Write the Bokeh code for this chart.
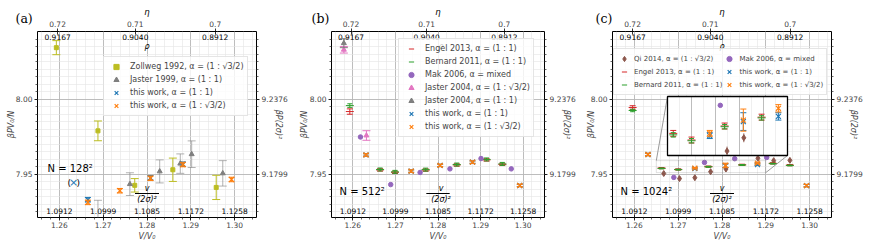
import numpy as np
from bokeh.plotting import figure
from bokeh.layouts import row
from bokeh.models import (Range1d, LinearAxis, FixedTicker, PrintfTickFormatter,
                          Label, Legend, LegendItem, BoxAnnotation, Title)
from bokeh.embed import file_html
from bokeh.resources import INLINE
from bokeh.core.properties import value

# ---------------- axis ticks / tick labels ----------------
V_TICKS = [1.26, 1.27, 1.28, 1.29, 1.30]
V_INNER_LABELS = ["1.0912", "1.0999", "1.1085", "1.1172", "1.1258"]      # v/(2σ)^2
ETA_TICKS = [0.72, 0.71, 0.70]
ETA_LABELS = ["0.72", "0.71", "0.7"]
RHO_LABELS = ["0.9167", "0.9040", "0.8912"]
P_TICKS = [7.95, 8.00]
P_RIGHT_LABELS = ["9.1799", "9.2376"]                                   # βP(2σ)^2

# ---------------- panel (a): N = 128^2 ----------------
a_zollweg_V = [1.2593, 1.2688, 1.2772, 1.2859, 1.2958]
a_zollweg_P = [8.0345, 7.9789, 7.9425, 7.9529, 7.9411]
a_zollweg_err = [0.0047, 0.0066, 0.0045, 0.0078, 0.0081]
a_jaster_V = [1.2688, 1.2761, 1.2829, 1.2876, 1.2902, 1.2973]
a_jaster_P = [7.9160, 7.9433, 7.9518, 7.9570, 7.9633, 7.9505]
a_jaster_err = [0.0165, 0.0076, 0.0077, 0.0065, 0.0089, 0.0085]
a_tw11_V = [1.2665, 1.2808, 1.2882]
a_tw11_P = [7.9329, 7.9475, 7.9566]
a_tw11_err = [0.0015, 0.0015, 0.0015]
a_tws_V = [1.2665, 1.2738, 1.2808, 1.2882, 1.2993]
a_tws_P = [7.9311, 7.9389, 7.9472, 7.9564, 7.9464]
a_tws_err = [0.0015, 0.0015, 0.0015, 0.0015, 0.0015]

# ---------------- panel (b): N = 512^2 ----------------
b_engel_V = [1.2593, 1.2664, 1.2699, 1.2771, 1.2844, 1.2914, 1.2951]
b_engel_P = [7.9918, 7.9528, 7.9512, 7.9527, 7.9561, 7.9595, 7.9565]
b_engel_err = [0.0018, 0.0008, 0.0008, 0.0008, 0.0008, 0.0008, 0.0008]
b_bernard_V = [1.2593, 1.2664, 1.2699, 1.2771, 1.2844, 1.2914, 1.2951]
b_bernard_P = [7.9958, 7.9531, 7.9515, 7.9530, 7.9564, 7.9598, 7.9568]
b_bernard_err = [0.0012, 0.0010, 0.0010, 0.0010, 0.0010, 0.0010, 0.0010]
b_mak_V = [1.2618, 1.2689, 1.2758, 1.2828, 1.2901, 1.2972]
b_mak_P = [7.9748, 7.9430, 7.9511, 7.9535, 7.9604, 7.9535]
b_j04s_V = [1.2579, 1.2632]
b_j04s_P = [8.0331, 7.9758]
b_j04s_err = [0.0022, 0.0032]
b_j04_V = [1.2579]
b_j04_P = [8.0375]
b_j04_err = [0.0030]
b_tw11_V = [1.2631, 1.2737, 1.2805, 1.2881, 1.2992]
b_tw11_P = [7.9628, 7.9520, 7.9558, 7.9580, 7.9424]
b_tw11_err = [0.0008, 0.0008, 0.0008, 0.0008, 0.0008]
b_tws_V = [1.2631, 1.2737, 1.2805, 1.2881, 1.2992]
b_tws_P = [7.9628, 7.9520, 7.9558, 7.9580, 7.9424]
b_tws_err = [0.0008, 0.0008, 0.0008, 0.0008, 0.0008]

# ---------------- panel (c): N = 1024^2 ----------------
c_qi_V = [1.2667, 1.2703, 1.2738, 1.2774, 1.2809, 1.2882, 1.2918, 1.2955]
c_qi_P = [7.9504, 7.9470, 7.9476, 7.9516, 7.9534, 7.9606, 7.9590, 7.9592]
c_qi_err = [0.0006, 0.0006, 0.0006, 0.0006, 0.0006, 0.0006, 0.0006, 0.0006]
c_engel_V = [1.2596, 1.2662, 1.2700, 1.2769, 1.2846, 1.2916, 1.2955]
c_engel_P = [7.9945, 7.9540, 7.9531, 7.9550, 7.9562, 7.9572, 7.9560]
c_engel_err = [0.0012, 0.0004, 0.0004, 0.0004, 0.0004, 0.0004, 0.0004]
c_bernard_V = [1.2596, 1.2662, 1.2700, 1.2769, 1.2846, 1.2916, 1.2955]
c_bernard_P = [7.9925, 7.9538, 7.9530, 7.9549, 7.9561, 7.9570, 7.9558]
c_bernard_err = [0.0008, 0.0003, 0.0003, 0.0003, 0.0003, 0.0003, 0.0003]
c_mak_V = [1.2690, 1.2760, 1.2829, 1.2902]
c_mak_P = [7.9478, 7.9578, 7.9603, 7.9611]
c_tw11_V = [1.2631, 1.2738, 1.2808, 1.2881, 1.2993]
c_tw11_P = [7.9631, 7.9537, 7.9556, 7.9563, 7.9423]
c_tw11_err = [0.0008, 0.0004, 0.0012, 0.0005, 0.0008]
c_tws_V = [1.2631, 1.2738, 1.2808, 1.2881, 1.2993]
c_tws_P = [7.9631, 7.9540, 7.9558, 7.9574, 7.9423]
c_tws_err = [0.0008, 0.0004, 0.0015, 0.0005, 0.0008]

# inset of panel (c): axis limits and placement (frame pixels: left, right, bottom, top)
INSET_X = (1.265, 1.290)
INSET_Y = (7.951, 7.959)
INSET_PX = (55, 175, 62, 121)

# ---------------- styling / geometry ----------------
FONT = "DejaVu Sans"
TICK_FS = "7.5px"
X0, X1 = 1.255, 1.305
Y0, Y1 = 7.921, 8.0453
FW, FH = 219, 186
TOP, BOTTOM = 31, 30
ETA_CP = np.pi / (2 * np.sqrt(3))
eta_pos = [float(ETA_CP / e) for e in ETA_TICKS]
x_minor = [round(float(v), 4) for v in np.arange(1.256, 1.3049, 0.002)]
y_minor = [round(float(v), 4) for v in np.arange(7.925, 8.0449, 0.005)]

C = dict(blue="#1f77b4", orange="#ff7f0e", green="#2ca02c", red="#d62728",
         purple="#9467bd", brown="#8c564b", pink="#e377c2", gray="#7f7f7f",
         olive="#bcbd22")


def xd(px):
    return X0 + px / FW * (X1 - X0)


def yd(py):
    return Y0 + py / FH * (Y1 - Y0)


def style_axis(ax, tick_in=0, tick_out=3):
    ax.axis_line_color = None
    ax.major_tick_line_color = "black"
    ax.major_tick_line_width = 0.8
    ax.major_tick_out = tick_out
    ax.major_tick_in = tick_in
    ax.minor_tick_line_color = "black"
    ax.minor_tick_line_width = 0.6
    ax.minor_tick_out = 2
    ax.minor_tick_in = 0
    ax.major_label_text_font = FONT
    ax.major_label_text_font_size = TICK_FS
    ax.major_label_standoff = 2
    ax.axis_label_text_font = FONT
    ax.axis_label_text_font_size = "8px"
    ax.axis_label_text_font_style = "italic"


def make_fig(left, right, ylab_standoff, tag, tag_dx):
    p = figure(width=left + FW + right, height=TOP + FH + BOTTOM,
               x_range=Range1d(X0, X1), y_range=Range1d(Y0, Y1),
               output_backend="svg", toolbar_location=None, tools="",
               min_border_left=left, min_border_right=right,
               min_border_top=TOP, min_border_bottom=BOTTOM)
    p.outline_line_color = "black"
    p.outline_line_width = 1
    xa = p.xaxis[0]
    xa.ticker = FixedTicker(ticks=V_TICKS, minor_ticks=x_minor)
    xa.formatter = PrintfTickFormatter(format="%.2f")
    style_axis(xa, tick_in=3)
    xa.major_label_standoff = 1
    xa.axis_label = "V/V₀"
    xa.axis_label_standoff = 1
    ya = p.yaxis[0]
    ya.ticker = FixedTicker(ticks=P_TICKS, minor_ticks=y_minor)
    ya.formatter = PrintfTickFormatter(format="%.2f")
    style_axis(ya)
    ya.axis_label = "βPV₀/N"
    ya.axis_label_standoff = ylab_standoff
    # top (η) axis: tick labels only; its title and the panel tag are Titles stacked above
    ta = LinearAxis(ticker=FixedTicker(ticks=eta_pos, minor_ticks=[]),
                    major_label_overrides=dict(zip(eta_pos, ETA_LABELS)))
    style_axis(ta, tick_in=3)
    p.add_layout(ta, "above")
    kw_tag = dict(text=tag, align="left", vertical_align="bottom", offset=tag_dx,
                  text_font="DejaVu Serif", text_font_size="12.5px",
                  text_font_style="normal", text_color="black")
    try:
        t1 = Title(standoff=-16, **kw_tag)
    except Exception:
        t1 = Title(standoff=0, **kw_tag)
    p.add_layout(t1, "above")
    p.add_layout(Title(text="η", align="center", vertical_align="bottom", standoff=0,
                       text_font=FONT, text_font_size="8.5px", text_font_style="italic",
                       text_color="black"), "above")
    ra = LinearAxis(ticker=FixedTicker(ticks=P_TICKS, minor_ticks=y_minor),
                    major_label_overrides=dict(zip(P_TICKS, P_RIGHT_LABELS)))
    style_axis(ra)
    ra.axis_label = "βP(2σ)²"
    ra.axis_label_standoff = -17
    p.add_layout(ra, "right")
    for g in (p.xgrid, p.ygrid):
        g.grid_line_color = "#b0b0b0"
        g.grid_line_width = 0.8
        g.minor_grid_line_color = "#e4e4e4"
        g.minor_grid_line_width = 0.6
    p.text(x=eta_pos, y=[Y1] * len(eta_pos), text=RHO_LABELS, text_align="center",
           text_baseline="top", y_offset=2, text_font=value(FONT), text_font_size="7.5px")
    p.text(x=V_TICKS, y=[Y0] * len(V_TICKS), text=V_INNER_LABELS, text_align="center",
           text_baseline="bottom", y_offset=-4, text_font=value(FONT), text_font_size="7.5px")
    return p


def add_text(p, x, y, text, size="8px", align="center", baseline="middle", angle=0.0,
             color="black", font=FONT, style="normal"):
    p.add_layout(Label(x=x, y=y, x_units="screen", y_units="screen", text=text,
                       text_font=font, text_font_size=size, text_align=align,
                       text_baseline=baseline, angle=angle, text_color=color,
                       text_font_style=style))


def decorate(p, nlabel, nx, ny):
    add_text(p, FW / 2, FH - 15, "ρ", size="8px", style="italic")
    add_text(p, FW / 2, 29, "v", size="8px", style="italic")
    add_text(p, FW / 2, 18, "(2σ)²", size="8px", style="italic")
    p.add_layout(BoxAnnotation(left=xd(FW / 2 - 12), right=xd(FW / 2 + 12),
                               bottom=yd(23.6), top=yd(24.4), fill_color="black",
                               fill_alpha=1.0, line_color=None))
    add_text(p, nx, ny, nlabel, size="10px", align="left")


def errpoints(p, V, P, err, color, marker, size, cap=8, err_alpha=1.0, lw=1.0,
              rn=None, clip=None, mlw=1.0):
    rn = rn or {}
    V, P, err = list(V), list(P), list(err)
    if clip is not None:
        (xa, xb), (ya, yb) = clip
        keep = [i for i in range(len(V)) if xa <= V[i] <= xb and ya <= P[i] <= yb]
        V = [V[i] for i in keep]
        P = [P[i] for i in keep]
        err = [err[i] for i in keep]
    lo = [pp - e for pp, e in zip(P, err)]
    hi = [pp + e for pp, e in zip(P, err)]
    if clip is not None:
        lo = [max(v, clip[1][0]) for v in lo]
        hi = [min(v, clip[1][1]) for v in hi]
    if len(V):
        p.segment(x0=V, y0=lo, x1=V, y1=hi, line_color=color, line_width=lw,
                  line_alpha=err_alpha, **rn)
        if cap:
            p.scatter(x=V + V, y=lo + hi, marker="dash", size=cap, line_color=color,
                      line_width=lw, line_alpha=err_alpha, **rn)
    return p.scatter(x=V, y=P, marker=marker, size=size, line_color=color,
                     fill_color=color, line_width=mlw, **rn)


def vproxy(p, color, alpha=1.0):
    return p.scatter(x=[], y=[], marker="dash", angle=np.pi / 2, size=6, line_color=color,
                     line_alpha=alpha, line_width=1)


def make_legend(items, loc, font_size="8px", glyph_width=18, standoff=5):
    return Legend(items=items, location=loc, orientation="vertical",
                  label_text_font=FONT, label_text_font_size=font_size,
                  glyph_height=13, glyph_width=glyph_width, label_height=12,
                  label_standoff=standoff, spacing=0, padding=3, margin=0,
                  background_fill_color="white", background_fill_alpha=0.8,
                  border_line_color="#cccccc", border_line_width=1)


A11 = "α = (1 : 1)"
A32 = "α = (1 : √3/2)"

# ================= panel (a) =================
pa = make_fig(37, 40, -3, "(a)", -22)
r_zw = errpoints(pa, a_zollweg_V, a_zollweg_P, a_zollweg_err, C["olive"], "square", 4, cap=8)
r_ja = errpoints(pa, a_jaster_V, a_jaster_P, a_jaster_err, C["gray"], "triangle", 5, cap=8,
                 err_alpha=0.6)
r_ab = errpoints(pa, a_tw11_V, a_tw11_P, a_tw11_err, C["blue"], "x", 7, cap=6, mlw=1.2)
r_ao = errpoints(pa, a_tws_V, a_tws_P, a_tws_err, C["orange"], "x", 7, cap=6, mlw=1.2)
items_a = [
    LegendItem(label="Zollweg 1992, " + A32, renderers=[vproxy(pa, C["olive"]), r_zw]),
    LegendItem(label="Jaster 1999, " + A11, renderers=[vproxy(pa, C["gray"], 0.6), r_ja]),
    LegendItem(label="this work, " + A11, renderers=[vproxy(pa, C["blue"]), r_ab]),
    LegendItem(label="this work, " + A32, renderers=[vproxy(pa, C["orange"]), r_ao]),
]
pa.add_layout(make_legend(items_a, (66, 101)))
decorate(pa, "N = 128²", 10, 49)
add_text(pa, 30, 35, "(", size="9px", align="left")
add_text(pa, 36, 35, "×", size="11px", color=C["blue"])
add_text(pa, 39, 35, ")", size="9px", align="left")

# ================= panel (b) =================
pb = make_fig(29, 39, -2, "(b)", -20)
r_be_en = errpoints(pb, b_engel_V, b_engel_P, b_engel_err, C["red"], "dash", 8, cap=6)
r_be_be = errpoints(pb, b_bernard_V, b_bernard_P, b_bernard_err, C["green"], "dash", 8, cap=5)
r_bm = pb.scatter(x=b_mak_V, y=b_mak_P, marker="circle", size=4.5, color=C["purple"])
r_bj4s = errpoints(pb, b_j04s_V, b_j04s_P, b_j04s_err, C["pink"], "triangle", 5, cap=8)
r_bj4 = errpoints(pb, b_j04_V, b_j04_P, b_j04_err, C["gray"], "triangle", 5, cap=8)
r_bb = errpoints(pb, b_tw11_V, b_tw11_P, b_tw11_err, C["blue"], "x", 7, cap=6, mlw=1.2)
r_bo = errpoints(pb, b_tws_V, b_tws_P, b_tws_err, C["orange"], "x", 7, cap=6, mlw=1.2)
items_b = [
    LegendItem(label="Engel 2013, " + A11, renderers=[vproxy(pb, C["red"]), r_be_en]),
    LegendItem(label="Bernard 2011, " + A11, renderers=[vproxy(pb, C["green"]), r_be_be]),
    LegendItem(label="Mak 2006, α = mixed", renderers=[r_bm]),
    LegendItem(label="Jaster 2004, " + A32, renderers=[vproxy(pb, C["pink"]), r_bj4s]),
    LegendItem(label="Jaster 2004, " + A11, renderers=[vproxy(pb, C["gray"]), r_bj4]),
    LegendItem(label="this work, " + A11, renderers=[vproxy(pb, C["blue"]), r_bb]),
    LegendItem(label="this work, " + A32, renderers=[vproxy(pb, C["orange"]), r_bo]),
]
pb.add_layout(make_legend(items_b, (67, 80)))
decorate(pb, "N = 512²", 8, 26)

# ================= panel (c) =================
pc = make_fig(29, 40, -8, "(c)", -17)
main_series = [
    (c_qi_V, c_qi_P, c_qi_err, C["brown"], "diamond", 6, 0),
    (c_engel_V, c_engel_P, c_engel_err, C["red"], "dash", 8, 6),
    (c_bernard_V, c_bernard_P, c_bernard_err, C["green"], "dash", 8, 5),
    (c_tw11_V, c_tw11_P, c_tw11_err, C["blue"], "x", 7, 6),
    (c_tws_V, c_tws_P, c_tws_err, C["orange"], "x", 7, 6),
]
rc = []
for (V, P, e, col, mk, sz, cp) in main_series:
    rc.append(errpoints(pc, V, P, e, col, mk, sz, cap=cp, mlw=1.2 if mk == "x" else 1.0))
r_cm = pc.scatter(x=c_mak_V, y=c_mak_P, marker="circle", size=4.5, color=C["purple"])

# zoom rectangle + connectors (inset corners expressed in main data coordinates)
pc.add_layout(BoxAnnotation(left=INSET_X[0], right=INSET_X[1], bottom=INSET_Y[0],
                            top=INSET_Y[1], fill_alpha=0, line_color="#808080",
                            line_width=0.8))
pc.segment(x0=[INSET_X[0], INSET_X[1]], y0=[INSET_Y[1], INSET_Y[0]],
           x1=[xd(INSET_PX[0]), xd(INSET_PX[1])], y1=[yd(INSET_PX[3]), yd(INSET_PX[2])],
           line_color="#808080", line_width=0.8)

# inset coordinate system mapped onto the inset box
sxp = (INSET_X[1] - INSET_X[0]) / (INSET_PX[1] - INSET_PX[0])
syp = (INSET_Y[1] - INSET_Y[0]) / (INSET_PX[3] - INSET_PX[2])
pc.extra_x_ranges = {"in": Range1d(INSET_X[0] - INSET_PX[0] * sxp,
                                   INSET_X[0] + (FW - INSET_PX[0]) * sxp)}
pc.extra_y_ranges = {"in": Range1d(INSET_Y[0] - INSET_PX[2] * syp,
                                   INSET_Y[0] + (FH - INSET_PX[2]) * syp)}
RN = dict(x_range_name="in", y_range_name="in")
pc.quad(left=[INSET_X[0]], right=[INSET_X[1]], bottom=[INSET_Y[0]], top=[INSET_Y[1]],
        fill_color="white", line_color=None, **RN)
gx_minor = [round(float(v), 4) for v in np.arange(INSET_X[0], INSET_X[1] + 1e-9, 0.0025)]
gx_major = [round(float(v), 4) for v in np.arange(INSET_X[0], INSET_X[1] + 1e-9, 0.005)]
pc.segment(x0=gx_minor, y0=[INSET_Y[0]] * len(gx_minor), x1=gx_minor,
           y1=[INSET_Y[1]] * len(gx_minor), line_color="#e4e4e4", line_width=0.6, **RN)
pc.segment(x0=gx_major, y0=[INSET_Y[0]] * len(gx_major), x1=gx_major,
           y1=[INSET_Y[1]] * len(gx_major), line_color="#b0b0b0", line_width=0.8, **RN)
for (V, P, e, col, mk, sz, cp) in main_series:
    errpoints(pc, V, P, e, col, mk, sz, cap=cp, rn=RN, clip=(INSET_X, INSET_Y),
              mlw=1.2 if mk == "x" else 1.0)
mk_in = [i for i in range(len(c_mak_V))
         if INSET_X[0] <= c_mak_V[i] <= INSET_X[1] and INSET_Y[0] <= c_mak_P[i] <= INSET_Y[1]]
pc.scatter(x=[c_mak_V[i] for i in mk_in], y=[c_mak_P[i] for i in mk_in], marker="circle",
           size=4.5, color=C["purple"], **RN)
pc.quad(left=[INSET_X[0]], right=[INSET_X[1]], bottom=[INSET_Y[0]], top=[INSET_Y[1]],
        fill_color=None, line_color="black", line_width=1.3, **RN)

items_c = [
    LegendItem(label="Qi 2014, " + A32, renderers=[rc[0]]),
    LegendItem(label="Engel 2013, " + A11, renderers=[vproxy(pc, C["red"]), rc[1]]),
    LegendItem(label="Bernard 2011, " + A11, renderers=[vproxy(pc, C["green"]), rc[2]]),
    LegendItem(label="Mak 2006, α = mixed", renderers=[r_cm]),
    LegendItem(label="this work, " + A11, renderers=[vproxy(pc, C["blue"]), rc[3]]),
    LegendItem(label="this work, " + A32, renderers=[vproxy(pc, C["orange"]), rc[4]]),
]
leg_c = make_legend(items_c, (1, 122), font_size="7px", glyph_width=14, standoff=3)
leg_c.ncols = 2
pc.add_layout(leg_c)
decorate(pc, "N = 1024²", 8, 26)

layout = row(pa, pb, pc)
open("out.html", "w").write(file_html(layout, INLINE))
